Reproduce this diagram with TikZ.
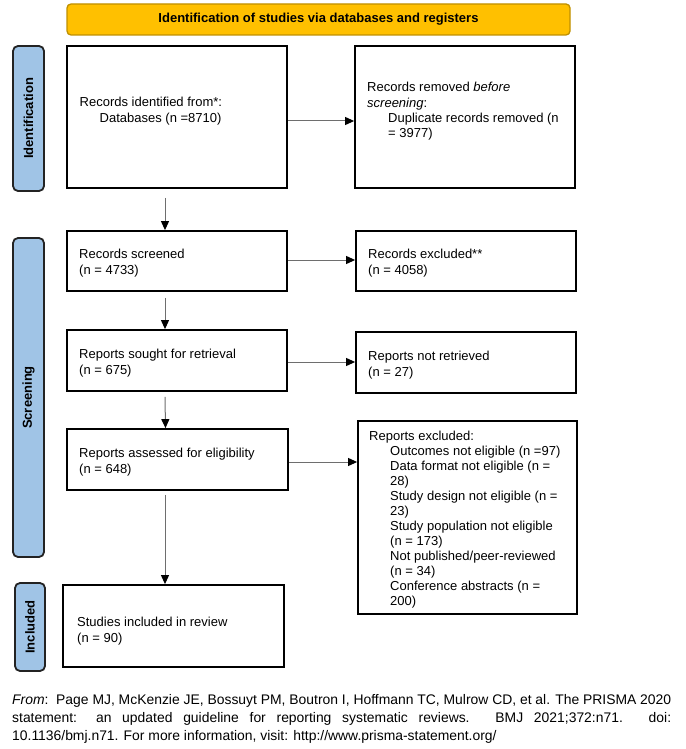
\documentclass[tikz,border=0pt]{standalone}
\usepackage{fontspec}
\setmainfont{Liberation Sans}
\usetikzlibrary{arrows.meta,calc}
\definecolor{hdrfill}{RGB}{255,192,0}
\definecolor{hdrdraw}{RGB}{191,144,0}
\definecolor{barfill}{RGB}{160,196,230}
\definecolor{bardraw}{RGB}{35,35,35}
\definecolor{linegray}{RGB}{110,110,110}
\begin{document}
\begin{tikzpicture}[x=1pt,y=-1pt,
  box/.style={draw=black, line width=1.8pt, inner sep=0pt},
  hdr/.style={draw=hdrdraw, fill=hdrfill, line width=1.3pt, rounded corners=4pt, inner sep=0pt,
     font=\fontsize{13}{15.5}\selectfont\bfseries},
  bar/.style={draw=bardraw, fill=barfill, line width=1.8pt, rounded corners=5pt, inner sep=0pt},
  barlabel/.style={rotate=90, inner sep=0pt, font=\fontsize{13}{15.5}\selectfont\bfseries},
  txt/.style={anchor=base west, inner sep=0pt, align=left, font=\fontsize{13}{15.5}\selectfont},
  arr/.style={draw=linegray, line width=1pt, -{Triangle[length=9pt,width=8pt,color=black]}}
]
\useasboundingbox (0,0) rectangle (685,749);
\fill[white] (0,0) rectangle (685,749);

% header
\node[hdr, minimum width=503pt, minimum height=31pt] (hdr) at (318.5,19.5) {Identification of studies via databases and registers};

% side bars
\node[bar, minimum width=31pt, minimum height=145pt] (idbar) at (28.5,118.5) {};
\node[barlabel] (idlab) at (idbar.center) {Identification};
\node[bar, minimum width=31pt, minimum height=319pt] (scrbar) at (28.5,397.5) {};
\node[barlabel] (scrlab) at (scrbar.center) {Screening};
\node[bar, minimum width=30pt, minimum height=88pt] (incbar) at (30,627) {};
\node[barlabel] (inclab) at (incbar.center) {Included};

% boxes
\node[box, minimum width=220pt, minimum height=142pt] (b1) at (177,117) {};
\node[box, minimum width=220pt, minimum height=142pt] (b2) at (465,117) {};
\node[box, minimum width=220pt, minimum height=60pt] (b3) at (177,261) {};
\node[box, minimum width=220pt, minimum height=60pt] (b4) at (466,261) {};
\node[box, minimum width=220pt, minimum height=61pt] (b5) at (177,360.5) {};
\node[box, minimum width=220pt, minimum height=61pt] (b6) at (466,362.5) {};
\node[box, minimum width=221pt, minimum height=61pt] (b7) at (177.5,459.5) {};
\node[box, minimum width=219pt, minimum height=193pt] (b8) at (467.5,517.5) {};
\node[box, minimum width=221pt, minimum height=82pt] (b9) at (173.5,626) {};

% texts (anchor = baseline of the last line)
\node[txt] (t1) at (79.5,122) {Records identified from*:\\\hspace*{20pt}Databases (n =8710)};
\node[txt] (t2) at (367,138) {Records removed \textit{before}\\\textit{screening}:\\\hspace*{21pt}Duplicate records removed (n\\\hspace*{21pt}= 3977)};
\node[txt] (t3) at (79,274) {Records screened\\(n = 4733)};
\node[txt] (t4) at (368,274) {Records excluded**\\(n = 4058)};
\node[txt] (t5) at (79,374) {Reports sought for retrieval\\(n = 675)};
\node[txt] (t6) at (368,376) {Reports not retrieved\\(n = 27)};
\node[txt] (t7) at (79,473) {Reports assessed for eligibility\\(n = 648)};
\node[txt, font=\fontsize{13}{15}\selectfont] (t8) at (369,605) {Reports excluded:\\
\hspace*{21pt}Outcomes not eligible (n =97)\\
\hspace*{21pt}Data format not eligible (n =\\
\hspace*{21pt}28)\\
\hspace*{21pt}Study design not eligible (n =\\
\hspace*{21pt}23)\\
\hspace*{21pt}Study population not eligible\\
\hspace*{21pt}(n = 173)\\
\hspace*{21pt}Not published/peer-reviewed\\
\hspace*{21pt}(n = 34)\\
\hspace*{21pt}Conference abstracts (n =\\
\hspace*{21pt}200)};
\node[txt] (t9) at (77,642) {Studies included in review\\(n = 90)};

% footer
\node[anchor=base west, inner sep=0pt, text width=659pt, align=justify,
  font=\fontsize{13.9}{18}\selectfont] (foot) at (12,704)
  {\textit{From}:\ \ Page MJ, McKenzie JE, Bossuyt PM, Boutron I, Hoffmann TC, Mulrow CD, et al. The PRISMA 2020\linebreak
  statement: an updated guideline for reporting systematic reviews. BMJ 2021;372:n71. doi:\linebreak
  10.1136/bmj.n71. For more information, visit: http://www.prisma-statement.org/};

% arrows right
\draw[arr] (b1.east |- 0,121) -- (b2.west |- 0,121);
\draw[arr] (b3.east |- 0,260) -- (b4.west |- 0,260);
\draw[arr] (b5.east |- 0,362) -- (b6.west |- 0,362);
\draw[arr] (b7.east |- 0,462) -- (b8.west |- 0,462);

% arrows down
\draw[arr] ([shift={(-12,9)}]b1.south) -- ([xshift=-12pt]b3.north);
\draw[arr] ([shift={(-12,6)}]b3.south) -- ([xshift=-12pt]b5.north);
\draw[arr] ([shift={(-12,5)}]b5.south) -- ([xshift=-12pt]b7.north);
\draw[arr] ([shift={(-12.5,4)}]b7.south) -- ([xshift=-8.5pt]b9.north);
\end{tikzpicture}
\end{document}
